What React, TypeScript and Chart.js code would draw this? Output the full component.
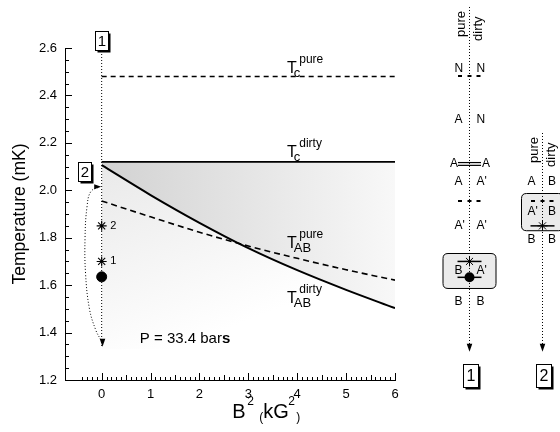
import React, { useEffect, useRef } from 'react';
import { Chart, registerables } from 'chart.js';

Chart.register(...registerables);

const FONT = '"Liberation Sans", Arial, Helvetica, sans-serif';

// ---- data ----
const fieldSq = [0, 1, 2, 3, 4, 5, 6];
const tabDirty = [2.106, 1.98, 1.863, 1.756, 1.663, 1.58, 1.503];
const tabPure = [1.955, 1.888, 1.823, 1.765, 1.713, 1.665, 1.621];
const tcDirtyValue = 2.12;
const tcPureValue = 2.48;
const shadeFloorValue = 1.33;
const xTickValues = [0, 1, 2, 3, 4, 5, 6];
const yTickValues = [1.2, 1.4, 1.6, 1.8, 2.0, 2.2, 2.4, 2.6];
const starX = [0, 0];
const starT = [1.85, 1.7];
const starLabels = ['2', '1'];
const dotX = [0];
const dotT = [1.635];
const coolingT = [2.6, 1.34];
const warmingX = [-0.02, -0.12, -0.25, -0.33, -0.34, -0.3, -0.22, -0.03];
const warmingT = [1.37, 1.41, 1.5, 1.65, 1.8, 1.93, 1.995, 2.015];
const curveLabelX = [3.79, 3.79, 3.79, 3.79];
const curveLabelT = [2.493, 2.14, 1.755, 1.525];
const curveLabelSub = ['c', 'c', 'AB', 'AB'];
const curveLabelSup = ['pure', 'dirty', 'pure', 'dirty'];
const pressureText = ['P = 33.4 bar', 's'];
const pressureX = 0.78;
const pressureT = 1.355;
const pathBoxLabels = ['1', '2'];
const pathBoxX = [0, -0.35];
const pathBoxT = [2.63, 2.08];

// diagram 1 (path 1)
const d1Top = 2.773;
const d1Bottom = 1.319;
const d1RowT = [2.511, 2.298, 2.111, 2.035, 1.849, 1.66, 1.53];
const d1RowLeft = ['N', 'A', 'A', 'A', "A'", 'B', 'B'];
const d1RowRight = ['N', 'N', 'A', "A'", "A'", "A'", 'B'];
const d1DashT = [2.48, 1.955];
const d1DoubleT = [2.111];
const d1BoxT = [1.7355, 1.588];
const d1StarT = [1.7];
const d1DotT = [1.633];
const d1Label = '1';
// diagram 2 (path 2)
const d2Top = 2.2416;
const d2Bottom = 1.319;
const d2RowT = [2.035, 1.91, 1.79];
const d2RowLeft = ['A', "A'", 'B'];
const d2RowRight = ['B', 'B', 'B'];
const d2DashT = [1.955];
const d2BoxT = [1.989, 1.832];
const d2StarT = [1.85];
const d2Label = '2';
const diagramLabelT = 1.22;

function drawStar(ctx: CanvasRenderingContext2D, x: number, y: number, r: number) {
  ctx.beginPath();
  for (let k = 0; k < 4; k++) {
    const a = (k * Math.PI) / 4;
    ctx.moveTo(x + r * Math.cos(a), y + r * Math.sin(a));
    ctx.lineTo(x - r * Math.cos(a), y - r * Math.sin(a));
  }
  ctx.stroke();
}

function drawBox(ctx: CanvasRenderingContext2D, cx: number, cy: number, w: number, h: number, text: string, size: number) {
  const x = Math.round(cx - w / 2) + 0.5;
  const y = Math.round(cy - h / 2) + 0.5;
  ctx.fillStyle = '#000';
  ctx.fillRect(x + 2, y + 2, w, h);
  ctx.fillStyle = '#fff';
  ctx.fillRect(x, y, w, h);
  ctx.strokeStyle = '#000';
  ctx.lineWidth = 1;
  ctx.setLineDash([]);
  ctx.strokeRect(x, y, w, h);
  ctx.fillStyle = '#000';
  ctx.font = `${size}px ${FONT}`;
  ctx.textAlign = 'center';
  ctx.textBaseline = 'middle';
  ctx.fillText(text, x + w / 2, y + h / 2 + 1);
}

function arrowDown(ctx: CanvasRenderingContext2D, x: number, yTip: number) {
  ctx.beginPath();
  ctx.moveTo(x, yTip);
  ctx.lineTo(x - 2.8, yTip - 8);
  ctx.lineTo(x + 2.8, yTip - 8);
  ctx.closePath();
  ctx.fill();
}

function arrowRight(ctx: CanvasRenderingContext2D, xTip: number, y: number) {
  ctx.beginPath();
  ctx.moveTo(xTip, y);
  ctx.lineTo(xTip - 7, y - 2.6);
  ctx.lineTo(xTip - 7, y + 2.6);
  ctx.closePath();
  ctx.fill();
}

function roundRect(ctx: CanvasRenderingContext2D, x: number, y: number, w: number, h: number, r: number) {
  ctx.beginPath();
  ctx.moveTo(x + r, y);
  ctx.lineTo(x + w - r, y);
  ctx.quadraticCurveTo(x + w, y, x + w, y + r);
  ctx.lineTo(x + w, y + h - r);
  ctx.quadraticCurveTo(x + w, y + h, x + w - r, y + h);
  ctx.lineTo(x + r, y + h);
  ctx.quadraticCurveTo(x, y + h, x, y + h - r);
  ctx.lineTo(x, y + r);
  ctx.quadraticCurveTo(x, y, x + r, y);
  ctx.closePath();
}

function drawDiagram(
  ctx: CanvasRenderingContext2D,
  py: (v: number) => number,
  ax: number,
  cfg: {
    top: number; bottom: number; rowT: number[]; left: string[]; right: string[];
    dashT: number[]; doubleT: number[]; boxT: number[]; boxHalf: number; starT: number[]; dotT: number[];
    label: string; rightOffset: number;
  }
) {
  const yTop = py(cfg.top);
  const yBot = py(cfg.bottom);
  // box
  const by1 = py(cfg.boxT[0]);
  const by2 = py(cfg.boxT[1]);
  roundRect(ctx, ax - cfg.boxHalf + 0.5, Math.round(by1) + 0.5, cfg.boxHalf * 2, by2 - by1, 5);
  ctx.fillStyle = '#ebebeb';
  ctx.fill();
  ctx.strokeStyle = '#000';
  ctx.lineWidth = 1;
  ctx.setLineDash([]);
  ctx.stroke();
  // header
  ctx.fillStyle = '#000';
  ctx.font = `13px ${FONT}`;
  ctx.textBaseline = 'alphabetic';
  ctx.textAlign = 'left';
  ctx.save();
  ctx.translate(ax - 4.5, yTop + 30);
  ctx.rotate(-Math.PI / 2);
  ctx.fillText('pure', 0, 0);
  ctx.restore();
  ctx.save();
  ctx.translate(ax + 12.5, yTop + 34);
  ctx.rotate(-Math.PI / 2);
  ctx.fillText('dirty', 0, 0);
  ctx.restore();
  // vertical dotted line
  ctx.strokeStyle = '#000';
  ctx.lineWidth = 1;
  ctx.setLineDash([1, 2]);
  ctx.beginPath();
  ctx.moveTo(ax + 0.5, yTop);
  ctx.lineTo(ax + 0.5, yBot - 6);
  ctx.stroke();
  ctx.setLineDash([]);
  ctx.fillStyle = '#000';
  arrowDown(ctx, ax + 0.5, yBot);
  // rows
  ctx.font = `12px ${FONT}`;
  ctx.textBaseline = 'middle';
  cfg.rowT.forEach((t, i) => {
    const y = py(t);
    const isDouble = cfg.doubleT.indexOf(t) >= 0;
    if (isDouble) {
      ctx.textAlign = 'right';
      ctx.fillText(cfg.left[i], ax - 11, y);
      ctx.textAlign = 'left';
      ctx.fillText(cfg.right[i], ax + 13, y);
    } else {
      ctx.textAlign = 'left';
      ctx.fillText(cfg.left[i], ax - 14.5, y);
      ctx.fillText(cfg.right[i], ax + cfg.rightOffset, y);
    }
  });
  ctx.textAlign = 'left';
  // dashes
  ctx.lineWidth = 2;
  cfg.dashT.forEach((t) => {
    const y = Math.round(py(t));
    [-9.5, 0, 9].forEach((o) => {
      ctx.beginPath();
      ctx.moveTo(ax + o - 1.5, y);
      ctx.lineTo(ax + o + 2.5, y);
      ctx.stroke();
    });
  });
  // double lines
  ctx.lineWidth = 1.2;
  cfg.doubleT.forEach((t) => {
    const y = py(t);
    [-1.4, 1.4].forEach((o) => {
      ctx.beginPath();
      ctx.moveTo(ax - 11, y + o);
      ctx.lineTo(ax + 12, y + o);
      ctx.stroke();
    });
  });
  // star lines
  cfg.starT.forEach((t) => {
    const y = py(t);
    ctx.lineWidth = 1.5;
    ctx.beginPath();
    ctx.moveTo(ax - 11.5, y);
    ctx.lineTo(ax + 12.5, y);
    ctx.stroke();
    ctx.lineWidth = 1;
    drawStar(ctx, ax + 0.5, y, 5);
  });
  cfg.dotT.forEach((t) => {
    const y = py(t);
    ctx.lineWidth = 1.5;
    ctx.beginPath();
    ctx.moveTo(ax - 11.5, y);
    ctx.lineTo(ax + 12.5, y);
    ctx.stroke();
    ctx.beginPath();
    ctx.arc(ax + 0.5, y, 5, 0, Math.PI * 2);
    ctx.fill();
  });
  drawBox(ctx, ax + 1, py(diagramLabelT), 15, 23, cfg.label, 16);
}

const decorPlugin = {
  id: 'decor',
  afterDraw(chart: any) {
    const ctx: CanvasRenderingContext2D = chart.ctx;
    const xs = chart.scales.x;
    const ys = chart.scales.y;
    const px = (v: number) => xs.getPixelForValue(v);
    const py = (v: number) => ys.getPixelForValue(v);
    const { left, bottom } = chart.chartArea;
    ctx.save();
    ctx.strokeStyle = '#000';
    ctx.fillStyle = '#000';
    ctx.lineWidth = 1;
    ctx.setLineDash([]);
    // x ticks (inward)
    for (let i = -4; i <= 60; i++) {
      const len = i % 10 === 0 ? 7 : i % 5 === 0 ? 5 : 3;
      const x = Math.round(px(i / 10)) + 0.5;
      ctx.beginPath();
      ctx.moveTo(x, bottom);
      ctx.lineTo(x, bottom - len);
      ctx.stroke();
    }
    // y ticks (inward)
    for (let i = 24; i <= 52; i++) {
      const len = i % 4 === 0 ? 7 : 4;
      const y = Math.round(py(i / 20)) + 0.5;
      ctx.beginPath();
      ctx.moveTo(left, y);
      ctx.lineTo(left + len, y);
      ctx.stroke();
    }
    // axis titles
    ctx.save();
    ctx.translate(20, (chart.chartArea.top + bottom) / 2);
    ctx.rotate(-Math.PI / 2);
    ctx.font = `17.5px ${FONT}`;
    ctx.textAlign = 'center';
    ctx.textBaseline = 'middle';
    ctx.fillText('Temperature (mK)', 0, 0);
    ctx.restore();
    const tx = px(3) - 16;
    const tb = 418;
    ctx.textAlign = 'left';
    ctx.textBaseline = 'alphabetic';
    ctx.font = `20px ${FONT}`;
    ctx.fillText('B', tx, tb);
    ctx.font = `12px ${FONT}`;
    ctx.fillText('2', tx + 15, tb - 13);
    ctx.font = `12px ${FONT}`;
    ctx.fillText('(', tx + 27, tb + 3);
    ctx.font = `20px ${FONT}`;
    ctx.fillText('kG', tx + 31, tb);
    ctx.font = `12px ${FONT}`;
    ctx.fillText('2', tx + 56, tb - 13);
    ctx.font = `12px ${FONT}`;
    ctx.fillText(')', tx + 64, tb + 3);
    // curve labels
    curveLabelX.forEach((x, i) => {
      const X = px(x);
      const Y = py(curveLabelT[i]);
      ctx.font = `16px ${FONT}`;
      ctx.fillText('T', X, Y);
      const w = ctx.measureText('T').width;
      ctx.font = `13px ${FONT}`;
      ctx.fillText(curveLabelSub[i], X + w - 3, Y + 4);
      ctx.font = `12px ${FONT}`;
      ctx.fillText(curveLabelSup[i], X + w + 2.5, Y - 10);
    });
    // pressure
    ctx.font = `15px ${FONT}`;
    const pX = px(pressureX);
    const pY = py(pressureT);
    ctx.fillText(pressureText[0], pX, pY);
    const pw = ctx.measureText(pressureText[0]).width;
    ctx.font = `bold 15px ${FONT}`;
    ctx.fillText(pressureText[1], pX + pw, pY);
    // star labels
    ctx.font = `11px ${FONT}`;
    ctx.textBaseline = 'middle';
    starX.forEach((x, i) => ctx.fillText(starLabels[i], px(x) + 8.5, py(starT[i])));
    // arrows on path lines
    arrowDown(ctx, Math.round(px(0)) + 0.5, py(coolingT[1]));
    arrowRight(ctx, px(warmingX[warmingX.length - 1]) + 1, py(warmingT[warmingT.length - 1]));
    // path boxes
    pathBoxLabels.forEach((lab, i) => drawBox(ctx, px(pathBoxX[i]), py(pathBoxT[i]), 13, 19, lab, 15));
    // diagrams
    drawDiagram(ctx, py, 469, {
      top: d1Top, bottom: d1Bottom, rowT: d1RowT, left: d1RowLeft, right: d1RowRight,
      dashT: d1DashT, doubleT: d1DoubleT, boxT: d1BoxT, boxHalf: 26.5, starT: d1StarT, dotT: d1DotT,
      label: d1Label, rightOffset: 7.5,
    });
    drawDiagram(ctx, py, 542, {
      top: d2Top, bottom: d2Bottom, rowT: d2RowT, left: d2RowLeft, right: d2RowRight,
      dashT: d2DashT, doubleT: [], boxT: d2BoxT, boxHalf: 21, starT: d2StarT, dotT: [],
      label: d2Label, rightOffset: 6,
    });
    ctx.restore();
  },
};

export default function App() {
  const ref = useRef<HTMLCanvasElement | null>(null);
  useEffect(() => {
    const canvas = ref.current;
    if (!canvas) return;
    const upperGradient = (c: any) => {
      const chart = c.chart;
      if (!chart.chartArea) return 'rgba(0,0,0,0)';
      const xs = chart.scales.x;
      const g = chart.ctx.createLinearGradient(xs.getPixelForValue(0), 0, xs.getPixelForValue(6), 0);
      g.addColorStop(0, '#d2d2d2');
      g.addColorStop(1, '#f8f8f8');
      return g;
    };
    const lowerGradient = (c: any) => {
      const chart = c.chart;
      if (!chart.chartArea) return 'rgba(0,0,0,0)';
      const xs = chart.scales.x;
      const ys = chart.scales.y;
      const g = chart.ctx.createLinearGradient(
        xs.getPixelForValue(0), ys.getPixelForValue(tcDirtyValue),
        xs.getPixelForValue(1.5), ys.getPixelForValue(shadeFloorValue)
      );
      g.addColorStop(0, '#e9e9e9');
      g.addColorStop(0.55, '#f5f5f5');
      g.addColorStop(1, '#ffffff');
      return g;
    };
    const line = { pointRadius: 0, borderColor: '#000', fill: false, order: 0 };
    const chart = new Chart(canvas, {
      type: 'line',
      data: {
        datasets: [
          { ...line, label: 'floor', data: fieldSq.map((x) => ({ x, y: shadeFloorValue })), borderColor: 'rgba(0,0,0,0)', borderWidth: 0, order: 5 },
          { ...line, label: 'TAB dirty', data: fieldSq.map((x, i) => ({ x, y: tabDirty[i] })), borderWidth: 2, tension: 0.4, cubicInterpolationMode: 'monotone', fill: 0, backgroundColor: lowerGradient },
          { ...line, label: 'Tc dirty', data: fieldSq.map((x) => ({ x, y: tcDirtyValue })), borderWidth: 1.6, fill: 1, backgroundColor: upperGradient },
          { ...line, label: 'TAB pure', data: fieldSq.map((x, i) => ({ x, y: tabPure[i] })), borderWidth: 1.6, borderDash: [6, 4], tension: 0.4, cubicInterpolationMode: 'monotone' },
          { ...line, label: 'Tc pure', data: fieldSq.map((x) => ({ x, y: tcPureValue })), borderWidth: 1.4, borderDash: [5, 4] },
          { ...line, label: 'cooling', data: coolingT.map((t) => ({ x: 0, y: t })), borderWidth: 1, borderDash: [1, 2], clip: false },
          { ...line, label: 'warming', data: warmingX.map((x, i) => ({ x, y: warmingT[i] })), borderWidth: 1, borderDash: [1, 2], tension: 0.4 },
          { label: 'stars', data: starX.map((x, i) => ({ x, y: starT[i] })), showLine: false, pointStyle: 'star', pointRadius: 5, borderColor: '#000', borderWidth: 1.1, order: -1 },
          { label: 'dot', data: dotX.map((x, i) => ({ x, y: dotT[i] })), showLine: false, pointStyle: 'circle', pointRadius: 5, backgroundColor: '#000', borderColor: '#000', order: -1 },
        ] as any,
      },
      options: {
        responsive: false,
        animation: false,
        devicePixelRatio: 1,
        layout: { padding: { top: 48, right: 165, left: 0, bottom: 0 } },
        plugins: { legend: { display: false }, tooltip: { enabled: false }, filler: { drawTime: 'beforeDatasetsDraw' } },
        scales: {
          x: {
            type: 'linear',
            min: -0.75,
            max: 6,
            afterFit: (s: any) => { s.height = 52; },
            afterBuildTicks: (s: any) => { s.ticks = xTickValues.map((v) => ({ value: v })); },
            grid: { drawOnChartArea: false, drawTicks: false },
            border: { display: true, color: '#000', width: 1 },
            ticks: { padding: 7, color: '#000', font: { family: FONT, size: 13 }, maxRotation: 0, autoSkip: false, callback: (v: any) => String(v) },
          },
          y: {
            type: 'linear',
            min: 1.2,
            max: 2.6,
            afterFit: (s: any) => { s.width = 65; },
            afterBuildTicks: (s: any) => { s.ticks = yTickValues.map((v) => ({ value: v })); },
            grid: { drawOnChartArea: false, drawTicks: false },
            border: { display: true, color: '#000', width: 1 },
            ticks: { padding: 8, color: '#000', font: { family: FONT, size: 13 }, autoSkip: false, callback: (v: any) => Number(v).toFixed(1) },
          },
        },
      } as any,
      plugins: [decorPlugin],
    });
    return () => chart.destroy();
  }, []);
  return (
    <div style={{ position: 'absolute', left: 0, top: 0, width: 560, height: 432, background: '#fff' }}>
      <canvas ref={ref} width={560} height={432} />
    </div>
  );
}
